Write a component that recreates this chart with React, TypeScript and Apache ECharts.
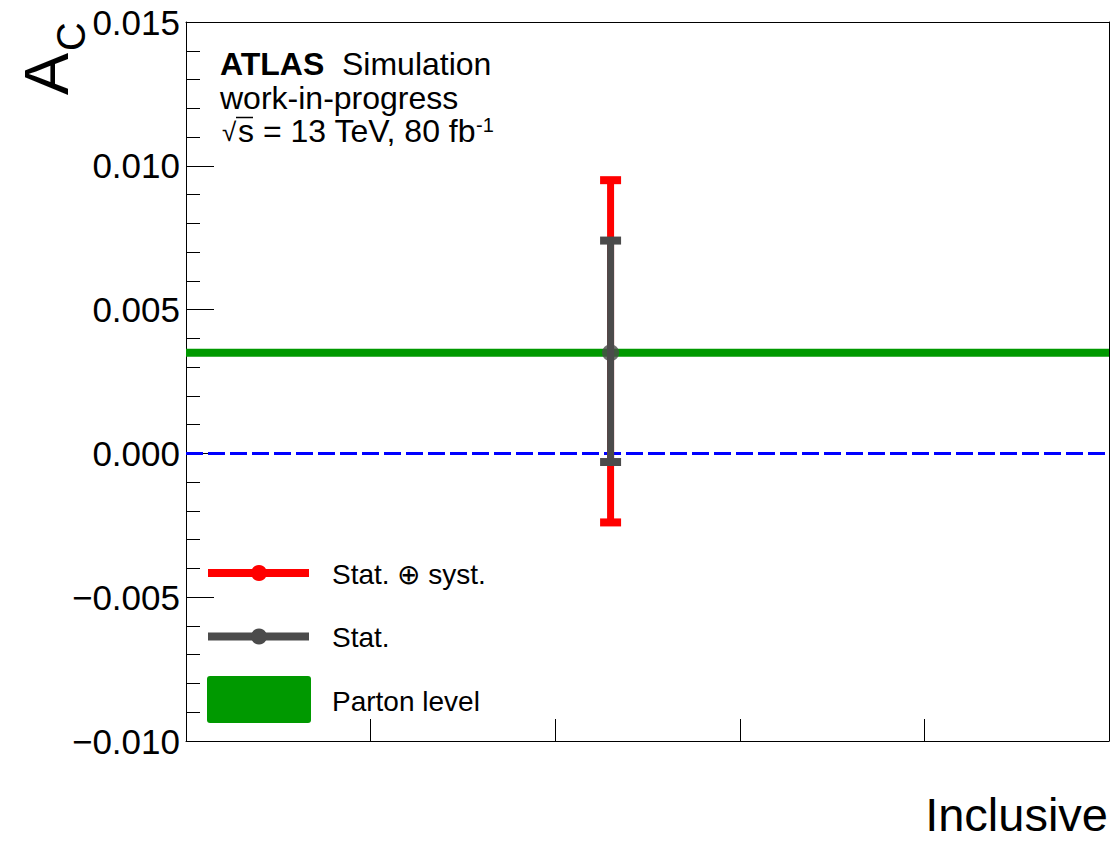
import React, { useEffect, useRef } from "react";
import * as echarts from "echarts";

// ---- data ----
const yTicks = [-0.01, -0.005, 0, 0.005, 0.01, 0.015];
const xRange = [0, 1];
const xTickStep = [0.2];
const binCenter = [0.46];
const measured = [0.0035];
const totalLow = [-0.0024];
const totalHigh = [0.0095];
const statLow = [-0.0003];
const statHigh = [0.0074];
const partonLevel = [0.0035];
const zeroLine = [0];
const legendLabels = ["Stat. \u2295 syst.", "Stat.", "Parton level"];
const xTitle = "Inclusive";

const FONT = "'Liberation Sans', Arial, Helvetica, sans-serif";
const RED = "#ff0000";
const GREY = "#4b4b4b";
const GREEN = "#009900";
const BLUE = "#0000ff";

const fmt = (v: number) => {
  const r = Math.round(v * 1000) / 1000;
  if (Math.abs(r) < 1e-9) return "0.000";
  return (r < 0 ? "\u2212" : "") + Math.abs(r).toFixed(3);
};

const errorBar = (color: string) => (params: any, api: any) => {
  const x = api.value(0);
  const lo = api.coord([x, api.value(1)]);
  const hi = api.coord([x, api.value(2)]);
  return {
    type: "group",
    children: [
      {
        type: "line",
        shape: { x1: hi[0], y1: hi[1], x2: lo[0], y2: lo[1] },
        style: { stroke: color, lineWidth: 7 },
      },
      {
        type: "rect",
        shape: { x: hi[0] - 10.5, y: hi[1] - 4, width: 21, height: 8 },
        style: { fill: color },
      },
      {
        type: "rect",
        shape: { x: lo[0] - 10.5, y: lo[1] - 4, width: 21, height: 8 },
        style: { fill: color },
      },
    ],
  };
};

export default function App() {
  const ref = useRef<HTMLDivElement>(null);
  useEffect(() => {
    if (!ref.current) return;
    const chart = echarts.init(ref.current, null, { renderer: "svg" });
    const yMin = yTicks[0];
    const yMax = yTicks[yTicks.length - 1];
    const yInterval = yTicks[1] - yTicks[0];
    const frameAxis = { show: true, onZero: false, lineStyle: { color: "#000", width: 1 } };
    chart.setOption({
      animation: false,
      textStyle: { fontFamily: FONT },
      grid: { left: 186, right: 5, top: 22, bottom: 100, containLabel: false },
      xAxis: [
        {
          type: "value",
          position: "bottom",
          min: xRange[0],
          max: xRange[1],
          interval: xTickStep[0],
          axisLine: frameAxis,
          axisTick: { show: true, inside: true, length: 22, lineStyle: { color: "#000", width: 1 } },
          axisLabel: { show: false },
          splitLine: { show: false },
        },
        {
          type: "value",
          position: "top",
          min: xRange[0],
          max: xRange[1],
          axisLine: frameAxis,
          axisTick: { show: false },
          axisLabel: { show: false },
          splitLine: { show: false },
        },
      ],
      yAxis: [
        {
          type: "value",
          position: "left",
          min: yMin,
          max: yMax,
          interval: yInterval,
          axisLine: frameAxis,
          axisTick: { show: true, inside: true, length: 28, lineStyle: { color: "#000", width: 1 } },
          minorTick: { show: true, splitNumber: 5, length: 14, lineStyle: { color: "#000", width: 1 } },
          axisLabel: {
            show: true,
            margin: 6,
            fontSize: 35,
            color: "#000",
            fontFamily: FONT,
            formatter: fmt,
            showMinLabel: true,
            showMaxLabel: true,
          },
          splitLine: { show: false },
        },
        {
          type: "value",
          position: "right",
          min: yMin,
          max: yMax,
          axisLine: frameAxis,
          axisTick: { show: false },
          axisLabel: { show: false },
          splitLine: { show: false },
        },
      ],
      series: [
        {
          name: "zero",
          type: "line",
          z: 1,
          symbol: "none",
          silent: true,
          data: [
            [xRange[0], zeroLine[0]],
            [xRange[1], zeroLine[0]],
          ],
          lineStyle: { color: BLUE, width: 3, type: [17, 5] },
        },
        {
          name: "Parton level",
          type: "line",
          z: 2,
          symbol: "none",
          data: [
            [xRange[0], partonLevel[0]],
            [xRange[1], partonLevel[0]],
          ],
          lineStyle: { color: GREEN, width: 8 },
        },
        {
          name: "Stat. \u2295 syst.",
          type: "custom",
          z: 3,
          renderItem: errorBar(RED),
          encode: { x: 0, y: [1, 2] },
          data: binCenter.map((x, i) => [x, totalLow[i], totalHigh[i]]),
        },
        {
          name: "Stat.",
          type: "custom",
          z: 4,
          renderItem: errorBar(GREY),
          encode: { x: 0, y: [1, 2] },
          data: binCenter.map((x, i) => [x, statLow[i], statHigh[i]]),
        },
        {
          name: "central",
          type: "scatter",
          z: 5,
          symbol: "circle",
          symbolSize: 17,
          itemStyle: { color: GREY },
          data: binCenter.map((x, i) => [x, measured[i]]),
        },
      ],
      graphic: [
        // y-axis title A_C (rotated)
        {
          type: "text",
          x: 46,
          y: 95,
          rotation: Math.PI / 2,
          style: {
            text: "A",
            font: `63px ${FONT}`,
            fill: "#000",
            textAlign: "left",
            textVerticalAlign: "middle",
          },
        },
        {
          type: "text",
          x: 71,
          y: 51,
          rotation: Math.PI / 2,
          style: {
            text: "C",
            font: `40px ${FONT}`,
            fill: "#000",
            textAlign: "left",
            textVerticalAlign: "middle",
          },
        },
        // x-axis title
        {
          type: "text",
          x: 1108,
          y: 814,
          style: {
            text: xTitle,
            font: `47px ${FONT}`,
            lineHeight: 40,
            fill: "#000",
            textAlign: "right",
            textVerticalAlign: "middle",
          },
        },
        // ATLAS label
        {
          type: "text",
          x: 220,
          y: 64,
          style: {
            text: "ATLAS",
            font: `bold 32px ${FONT}`,
            fill: "#000",
            textVerticalAlign: "middle",
          },
        },
        {
          type: "text",
          x: 342,
          y: 64,
          style: {
            text: "Simulation",
            font: `32px ${FONT}`,
            fill: "#000",
            textVerticalAlign: "middle",
          },
        },
        {
          type: "text",
          x: 220,
          y: 98,
          style: {
            text: "work-in-progress",
            font: `32px ${FONT}`,
            fill: "#000",
            textVerticalAlign: "middle",
          },
        },
        {
          type: "text",
          x: 222,
          y: 132,
          style: {
            text: "\u221A",
            font: `26px ${FONT}`,
            fill: "#000",
            textVerticalAlign: "middle",
          },
        },
        {
          type: "line",
          shape: { x1: 236, y1: 117.5, x2: 253, y2: 117.5 },
          style: { stroke: "#000", lineWidth: 1.5 },
        },
        {
          type: "text",
          x: 238,
          y: 131,
          style: {
            text: "{n|s = 13 TeV, 80 fb}{s|-1}",
            textVerticalAlign: "middle",
            rich: {
              n: { fontFamily: FONT, fontSize: 32, color: "#000" },
              s: { fontFamily: FONT, fontSize: 20, color: "#000", verticalAlign: "top", padding: [0, 0, 8, 0] },
            },
          },
        },
        // legend
        {
          type: "line",
          shape: { x1: 208, y1: 573, x2: 309, y2: 573 },
          style: { stroke: RED, lineWidth: 8 },
        },
        { type: "circle", shape: { cx: 259, cy: 573, r: 8 }, style: { fill: RED } },
        {
          type: "line",
          shape: { x1: 208, y1: 636.5, x2: 309, y2: 636.5 },
          style: { stroke: GREY, lineWidth: 8 },
        },
        { type: "circle", shape: { cx: 259, cy: 636.5, r: 8 }, style: { fill: GREY } },
        {
          type: "rect",
          shape: { x: 207, y: 676, width: 104, height: 47, r: 3 },
          style: { fill: GREEN },
        },
        ...legendLabels.map((t, i) => ({
          type: "text",
          x: 332,
          y: [574, 637, 701][i],
          style: {
            text: t,
            font: `28px ${FONT}`,
            fill: "#000",
            textVerticalAlign: "middle",
          },
        })),
      ],
    });
    return () => chart.dispose();
  }, []);
  return (
    <div
      ref={ref}
      style={{ position: "absolute", left: 0, top: 0, width: 1114, height: 841, background: "#fff" }}
    />
  );
}
